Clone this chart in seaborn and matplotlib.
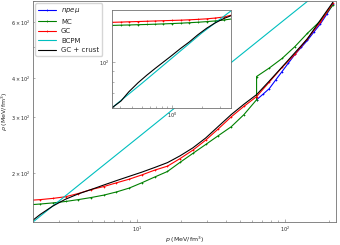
import numpy as np
import seaborn as sns
import matplotlib.pyplot as plt
from matplotlib.ticker import NullFormatter

# pressure grid (MeV/fm^3) shared by the GC / MC / crust curves
p_grid = [0.25, 0.31, 0.37, 0.46, 0.56, 0.68, 0.82, 1.0, 1.22, 1.49, 1.82, 2.22,
          2.71, 3.3, 4.02, 4.9, 5.98, 7.29, 8.89, 10.8, 13.2, 16.1, 19.6, 23.9,
          29.2, 35.6, 43.4, 52.9, 64.4, 78.5, 95.7, 117, 142, 174, 211]

rho_gc = [158, 158.5, 159, 159.5, 160, 160.5, 161, 161.5, 162, 162.7, 163.5, 164.5,
          166, 168, 172, 177, 181, 186, 191, 197, 204, 210, 222, 236,
          254, 276, 301, 325, 349, 388, 432, 475, 533, 601, 690]

rho_crust = [59, 64, 71, 79, 86, 93, 100, 108, 117, 126, 137, 147.5,
             157, 165, 171.5, 177, 183, 189, 195, 201, 208, 215.5, 226.5, 240,
             258, 281, 306, 330, 354, 391, 433, 481, 532, 611, 695]

# MC has the phase transition: two densities at the same pressure
p_mc = [0.25, 0.31, 0.37, 0.46, 0.56, 0.68, 0.82, 1.0, 1.22, 1.49, 1.82, 2.22,
        2.71, 3.3, 4.02, 4.9, 5.98, 7.29, 8.89, 10.8, 13.2, 16.1, 19.6, 23.9,
        29.2, 35.6, 43.4, 52.9, 64.4, 64.4, 78.5, 95.7, 117, 142, 174, 211]
rho_mc = [152.5, 153, 153.3, 153.8, 154.2, 154.7, 155.2, 155.8, 156.5, 157.3, 158.2, 159.3,
          160.6, 162.3, 164.5, 167, 170, 174, 179, 186, 194, 202, 216, 230.5,
          246, 262.6, 280, 306, 341, 404, 430, 461, 503, 554, 607, 680]

p_npe = [64.4, 71.1, 78.5, 86.7, 95.7, 105.7, 117, 129, 142, 157, 174, 192, 211]
rho_npe = [341, 355, 370, 394, 419, 446, 475, 500, 526, 559, 594, 637, 685]

p_bcpm = [0.25, 0.5, 1, 2, 5, 10, 20, 50, 100, 150]
rho_bcpm = [59, 78.3, 104.7, 140, 198, 257, 334, 472, 613, 714]

series = [
    (r'$npe\mu$', p_npe, rho_npe, '#0000ff', '+'),
    ('MC', p_mc, rho_mc, '#008000', '+'),
    ('GC', p_grid, rho_gc, '#ff0000', '+'),
    ('BCPM', p_bcpm, rho_bcpm, '#00bfbf', None),
    ('GC + crust', p_grid, rho_crust, '#000000', None),
]

sns.set_theme(style="ticks")
plt.rcParams['font.family'] = ['DejaVu Sans']
plt.rcParams['axes.edgecolor'] = '0.45'
plt.rcParams['axes.linewidth'] = 0.6
plt.rcParams['xtick.color'] = '0.45'
plt.rcParams['ytick.color'] = '0.45'
plt.rcParams['xtick.labelcolor'] = '0.15'
plt.rcParams['ytick.labelcolor'] = '0.15'


def draw(ax, with_labels):
    for name, x, y, col, mk in series:
        sns.lineplot(x=x, y=y, ax=ax, color=col, marker=mk, markersize=2,
                     markeredgewidth=0.5, markeredgecolor=col, linewidth=0.8,
                     estimator=None, sort=False,
                     label=name if with_labels else None)
    ax.set_xscale('log')
    ax.set_yscale('log')
    ax.tick_params(which='both', direction='in', labelsize=3.5, width=0.4, pad=2)
    ax.tick_params(which='major', length=2.5)
    ax.tick_params(which='minor', length=1.5)


fig = plt.figure(figsize=(3.4, 2.45), dpi=100)
ax = fig.add_axes([0.098, 0.095, 0.889, 0.9])
draw(ax, True)
ax.set_xlim(2, 220)
ax.set_ylim(140, 700)
ax.set_xlabel(r'$p$ (MeV/fm$^3$)', fontsize=4.5, labelpad=1)
ax.set_ylabel(r'$\rho$ (MeV/fm$^3$)', fontsize=4.5, labelpad=1)
ax.legend(loc='upper left', fontsize=5, handlelength=2.5, borderaxespad=0.3,
          framealpha=0.8)

axin = fig.add_axes([0.329, 0.559, 0.35, 0.4])
draw(axin, False)
axin.set_xlim(0.251, 3.89)
axin.set_ylim(59, 182)
axin.xaxis.set_minor_formatter(NullFormatter())
axin.yaxis.set_minor_formatter(NullFormatter())
if axin.get_legend() is not None:
    axin.get_legend().remove()

fig.savefig('out.png', dpi=100)
